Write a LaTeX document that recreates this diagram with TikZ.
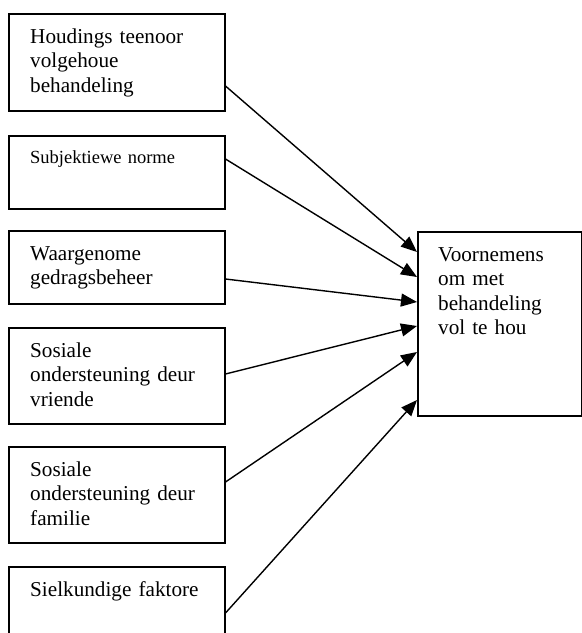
\documentclass[tikz,border=0pt]{standalone}
\usepackage{fontspec}
\setmainfont{Liberation Serif}
\usetikzlibrary{arrows.meta, calc}
\tikzset{
	factor/.style={draw, line width=1.5pt, minimum width=216pt, anchor=north west, inner sep=0pt}
}
\tikzset{
	factortext/.style={anchor=base west, xshift=22pt, yshift=-30pt, text width=190pt, align=left, inner sep=0pt}
}

\begin{document}
\begin{tikzpicture}[x=1pt, y=-1pt, >={Triangle[length=16pt, width=13pt]}, font=\fontsize{21.2}{24.5}\selectfont]
      \useasboundingbox (0,0) rectangle (582,633);
      \clip (0,0) rectangle (582,633);
      % left column
      \node[factor, minimum height=97pt] (houding) at (8,13) {};
      \node[factor, minimum height=73pt] (norme) at (8,135) {};
      \node[factor, minimum height=73pt] (gedrag) at (8,230) {};
      \node[factor, minimum height=96pt] (vriende) at (8,327) {};
      \node[factor, minimum height=96pt] (familie) at (8,446) {};
      \node[factor, minimum height=110pt] (sielkunde) at (8,566) {};
      \node[factortext] (houdingtxt) at (houding.north west) {Houdings teenoor\\volgehoue\\behandeling};
      \node[factortext, yshift=2pt, font=\fontsize{18.5}{21}\selectfont] (normetxt) at (norme.north west) {Subjektiewe norme};
      \node[factortext] (gedragtxt) at (gedrag.north west) {Waargenome\\gedragsbeheer};
      \node[factortext] (vriendetxt) at (vriende.north west) {Sosiale\\ondersteuning deur\\vriende};
      \node[factortext] (familietxt) at (familie.north west) {Sosiale\\ondersteuning deur\\familie};
      \node[factortext] (sielkundetxt) at (sielkunde.north west) {Sielkundige faktore};
      % intention
      \node[factor, minimum width=164pt, minimum height=184pt] (doel) at (417,231) {};
      \node[factortext, xshift=-1pt] (doeltxt) at (doel.north west) {Voornemens\\om met\\behandeling\\vol te hou};
      % arrows
      \draw[line width=1.4pt, ->] ($(houding.north east)+(0,73)$) -- ($(doel.north west)+(0,21)$);
      \draw[line width=1.4pt, ->] ($(norme.north east)+(0,24)$) -- ($(doel.north west)+(0,46)$);
      \draw[line width=1.4pt, ->] ($(gedrag.north east)+(0,49)$) -- ($(doel.north west)+(0,71)$);
      \draw[line width=1.4pt, ->] ($(vriende.north east)+(0,47)$) -- ($(doel.north west)+(0,95)$);
      \draw[line width=1.4pt, ->] ($(familie.north east)+(0,36)$) -- ($(doel.north west)+(0,121)$);
      \draw[line width=1.4pt, ->] ($(sielkunde.north east)+(0,47)$) -- ($(doel.north west)+(0,169)$);
    \end{tikzpicture}
\end{document}
